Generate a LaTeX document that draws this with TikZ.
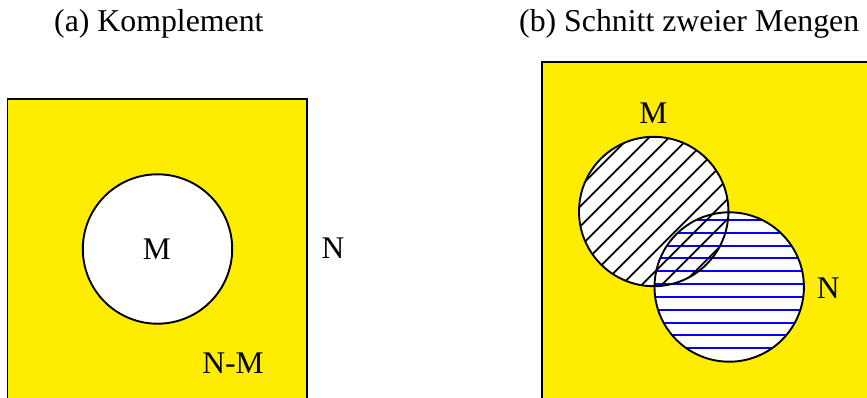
\documentclass[tikz,border=0pt]{standalone}
\usepackage{fontspec}
\setmainfont{Liberation Serif}
\definecolor{venny}{RGB}{255,237,0}
\begin{document}
\begin{tikzpicture}[x=1pt,y=-1pt,
  lbl/.style={font=\fontsize{31.5}{36}\selectfont, inner sep=0pt, anchor=base},
  ttl/.style={font=\fontsize{31.8}{36}\selectfont, inner sep=0pt, anchor=base west},
  setc/.style={circle, minimum size=149.4pt, inner sep=0pt, outer sep=0pt},
  outline/.style={draw=black, line width=1.9pt},
  hatchM/.style={black, line width=1.8pt},
  hatchN/.style={blue, line width=2pt},
  universe/.style={fill=venny, draw=black, line width=1.6pt}]
\useasboundingbox (0,0) rectangle (867,397);
\clip (0,0) rectangle (867,397);
% titles
\node[ttl] (ta) at (54,31.8) {(a) Komplement};
\node[ttl] (tb) at (519,31.8) {(b) Schnitt zweier Mengen};
% (a) complement
\draw[universe] (7.5,99) rectangle (307,420);
\node[setc, fill=white, outline] (cM) at (157.5,249) {};
\node[lbl] (lM) at (157,259.5) {M};
\node[lbl] (lN) at (333,258.5) {N};
\node[lbl] (lNM) at (233,373.3) {N-M};
% (b) intersection
\draw[universe] (541.7,61.7) rectangle (900,430);
\node[setc, fill=white] (bM) at (653.7,211.5) {};
\node[setc, fill=white] (bN) at (729.2,287) {};
\begin{scope}
  \clip (bN.center) circle[radius=74.7pt];
  \foreach \k in {0,...,10}
    \draw[hatchN] (640,220+12.83*\k) -- (820,220+12.83*\k);
\end{scope}
\begin{scope}
  \clip (bM.center) circle[radius=74.7pt];
  \foreach \k in {-7,...,7}
    \draw[hatchM] (550,316.7+20*\k) -- (760,106.7+20*\k);
\end{scope}
\draw[outline] (bM.center) circle[radius=74.7pt];
\draw[outline] (bN.center) circle[radius=74.7pt];
\node[lbl] (rM) at (653.3,123.3) {M};
\node[lbl] (rN) at (828.3,298.3) {N};
\end{tikzpicture}
\end{document}
